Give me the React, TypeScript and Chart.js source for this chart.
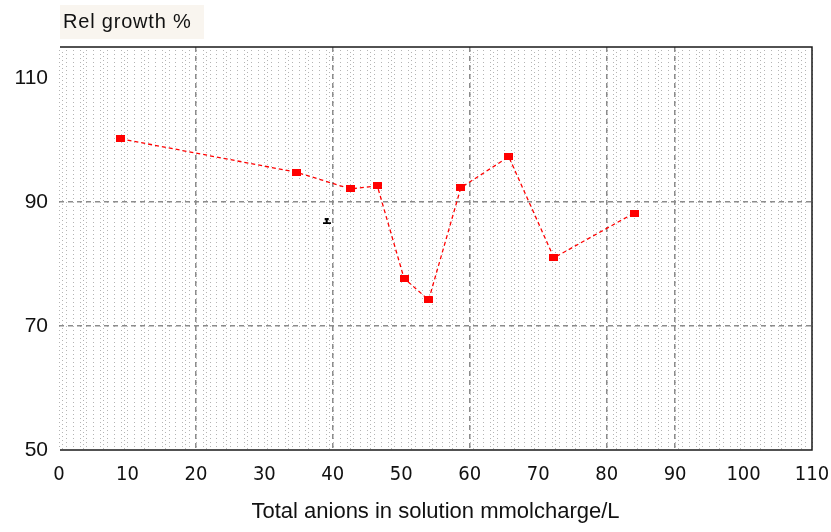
import React, { useEffect, useRef } from "react";
import { Chart, registerables } from "chart.js";

Chart.register(...registerables);

// ---- data ----
const anionsX = [9.0, 34.7, 42.6, 46.5, 50.4, 54.0, 58.7, 65.7, 72.3, 84.0];
const relGrowth = [100.2, 94.8, 92.1, 92.6, 77.7, 74.2, 92.3, 97.3, 81.0, 88.2];
const markerX = [39.1];
const markerY = [86.9];
const xTickValues = [0, 10, 20, 30, 40, 50, 60, 70, 80, 90, 100, 110];
const yTickValues = [50, 70, 90, 110];
const xDashedGrid = [20, 40, 60, 80, 90];
const yDashedGrid = [70, 90];
const yTitle = "Rel growth %";
const xTitle = "Total anions in solution mmolcharge/L";

function makeRectMarker(): HTMLCanvasElement {
  const c = document.createElement("canvas");
  c.width = 9;
  c.height = 7;
  const g = c.getContext("2d")!;
  g.fillStyle = "#ff0000";
  g.fillRect(0, 0, 9, 7);
  return c;
}

function makeBeamMarker(): HTMLCanvasElement {
  const c = document.createElement("canvas");
  c.width = 8;
  c.height = 6;
  const g = c.getContext("2d")!;
  g.fillStyle = "#000000";
  g.fillRect(2, 0, 4, 2);
  g.fillRect(3, 1, 2, 3);
  g.fillRect(0, 4, 8, 2);
  return c;
}

const decorPlugin = {
  id: "decor",
  beforeDraw(chart: any) {
    const { ctx, chartArea, scales } = chart;
    const { top, bottom } = chartArea;
    ctx.save();
    ctx.fillStyle = "#ffffff";
    ctx.fillRect(0, 0, chart.width, chart.height);
    // title box
    ctx.fillStyle = "#f9f5ef";
    ctx.fillRect(60, 5, 144, 34);
    // dotted background texture
    ctx.fillStyle = "#b4b4b4";
    for (let v = 0; v <= 110; v++) {
      const px = Math.round(scales.x.getPixelForValue(v));
      for (let py = top + 3; py < bottom - 1; py += 4) {
        ctx.fillRect(px, py, 1, 1);
        if (v % 3 === 0) ctx.fillRect(px + 3, py + 2, 1, 1);
      }
    }
    ctx.restore();
  },
  afterDraw(chart: any) {
    const { ctx, chartArea } = chart;
    const { left, top, right, bottom } = chartArea;
    ctx.save();
    ctx.strokeStyle = "#1a1a1a";
    ctx.lineWidth = 1.5;
    ctx.beginPath();
    ctx.moveTo(left + 1, top);
    ctx.lineTo(right, top);
    ctx.lineTo(right, bottom);
    ctx.lineTo(left + 1, bottom);
    ctx.stroke();
    ctx.fillStyle = "#111111";
    ctx.font = "20px 'Liberation Sans', Arial, sans-serif";
    ctx.textBaseline = "alphabetic";
    ctx.textAlign = "left";
    try {
      (ctx as any).letterSpacing = "0.8px";
    } catch (e) {}
    ctx.fillText(yTitle, 63, 28);
    ctx.restore();
  },
};

export default function App() {
  const ref = useRef<HTMLCanvasElement | null>(null);

  useEffect(() => {
    if (!ref.current) return;
    const chart = new Chart(ref.current, {
      type: "scatter",
      data: {
        datasets: [
          {
            label: "Rel growth",
            data: anionsX.map((x, i) => ({ x, y: relGrowth[i] })),
            showLine: true,
            borderColor: "#ff0000",
            borderWidth: 1.3,
            borderDash: [4, 3],
            pointStyle: makeRectMarker() as any,
            pointRadius: 5,
            pointHoverRadius: 5,
          },
          {
            label: "marker",
            data: markerX.map((x, i) => ({ x, y: markerY[i] })),
            showLine: false,
            pointStyle: makeBeamMarker() as any,
            pointRadius: 4,
          },
        ],
      },
      options: {
        animation: false,
        responsive: false,
        devicePixelRatio: 1,
        layout: { padding: { top: 47, right: 19, left: 0, bottom: 0 } },
        plugins: {
          legend: { display: false },
          tooltip: { enabled: false },
          title: { display: false },
        },
        scales: {
          x: {
            type: "linear",
            min: 0,
            max: 110,
            afterBuildTicks: (s: any) => {
              s.ticks = xTickValues.map((v) => ({ value: v }));
            },
            afterFit: (s: any) => {
              s.height = 82;
              s.paddingLeft = 0;
              s.paddingRight = 0;
            },
            grid: {
              drawTicks: false,
              lineWidth: 1.5,
              color: (c: any) =>
                c.tick && xDashedGrid.includes(c.tick.value) ? "#8c8c8c" : "rgba(0,0,0,0)",
            },
            border: { display: false, dash: [5, 4] },
            ticks: {
              padding: 13,
              color: "#111111",
              font: { family: "'Liberation Sans Narrow', 'DejaVu Sans Condensed', sans-serif", size: 20 },
              maxRotation: 0,
              autoSkip: false,
            },
            title: {
              display: true,
              text: xTitle,
              color: "#111111",
              font: { family: "'Liberation Sans', Arial, sans-serif", size: 22 },
              padding: { top: 0, bottom: 7 },
            },
          },
          y: {
            type: "linear",
            min: 50,
            max: 115,
            afterBuildTicks: (s: any) => {
              s.ticks = yTickValues.map((v) => ({ value: v }));
            },
            afterFit: (s: any) => {
              s.width = 59;
            },
            grid: {
              drawTicks: false,
              lineWidth: 1.5,
              color: (c: any) =>
                c.tick && yDashedGrid.includes(c.tick.value) ? "#8c8c8c" : "rgba(0,0,0,0)",
            },
            border: { display: false, dash: [5, 4] },
            ticks: {
              padding: 11,
              color: "#111111",
              font: { family: "'Liberation Sans', Arial, sans-serif", size: 21 },
            },
          },
        },
      },
      plugins: [decorPlugin],
    });
    return () => chart.destroy();
  }, []);

  return (
    <div style={{ position: "absolute", left: 0, top: 0, width: 831, height: 532, background: "#ffffff" }}>
      <canvas ref={ref} width={831} height={532} style={{ display: "block", width: 831, height: 532 }} />
    </div>
  );
}
